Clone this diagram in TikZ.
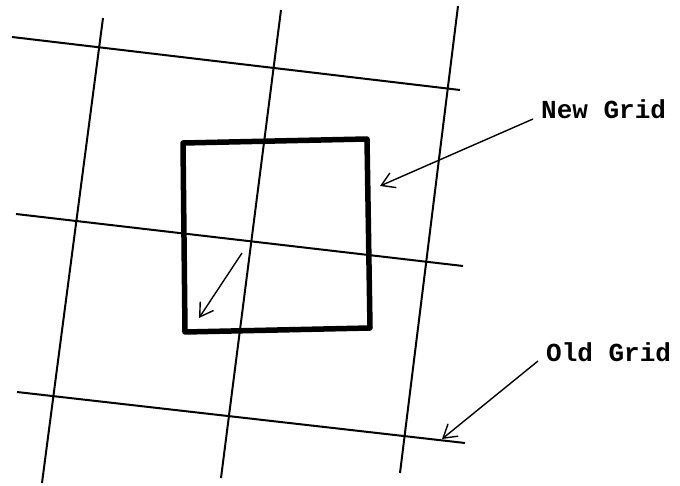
\documentclass[tikz,border=0pt]{standalone}
\usepackage{fontspec}
\newfontfamily\typefont{Liberation Mono}
\usepackage{tikz}
\usetikzlibrary{arrows.meta}

\begin{document}
\begin{tikzpicture}[x=1pt, y=-1pt,
	gridline/.style={line width=2pt},
	newsq/.style={line width=5.5pt, line join=round, line cap=round},
	arr/.style={-{Straight Barb[length=13pt, width=16pt, line width=1.4pt]}, line width=1.4pt},
	lbl/.style={anchor=base west, inner xsep=8pt, inner ysep=0pt,
		font=\fontsize{26}{30}\selectfont\typefont\bfseries}
]
	\useasboundingbox (0,0) rectangle (680,486);
	% old grid
	\coordinate (h1a) at (12,37);   \coordinate (h1b) at (460,90);
	\coordinate (h2a) at (16,214);  \coordinate (h2b) at (463,266);
	\coordinate (h3a) at (17,392);  \coordinate (h3b) at (465,443);
	\coordinate (v1a) at (103,18);  \coordinate (v1b) at (42,483);
	\coordinate (v2a) at (281,10);  \coordinate (v2b) at (221,478);
	\coordinate (v3a) at (458,6);   \coordinate (v3b) at (400,473);
	\draw[gridline] (h1a) -- (h1b);
	\draw[gridline] (h2a) -- (h2b);
	\draw[gridline] (h3a) -- (h3b);
	\draw[gridline] (v1a) -- (v1b);
	\draw[gridline] (v2a) -- (v2b);
	\draw[gridline] (v3a) -- (v3b);
	% new grid cell
	\coordinate (sqtl) at (183,143);
	\coordinate (sqtr) at (367,139);
	\coordinate (sqbr) at (370,328);
	\coordinate (sqbl) at (185,332);
	\draw[newsq] (sqtl) -- (sqtr) -- (sqbr) -- (sqbl) -- cycle;
	\coordinate (shfrom) at (242,253);
	\coordinate (shto) at (199,318);
	\draw[arr] (shfrom) -- (shto);
	% labels
	\node[lbl] (newlbl) at (533,119) {New Grid};
	\node[lbl] (oldlbl) at (538,361) {Old Grid};
	\coordinate (newtip) at (380,186);
	\coordinate (oldtip) at (442,439);
	\draw[arr] (newlbl.base west) -- (newtip);
	\draw[arr] (oldlbl.base west) -- (oldtip);
\end{tikzpicture}
\end{document}
